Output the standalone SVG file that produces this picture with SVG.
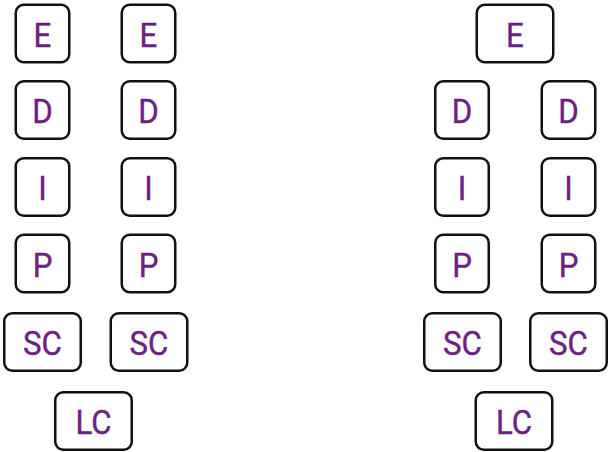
<svg xmlns="http://www.w3.org/2000/svg" width="611" height="452" viewBox="0 0 611 452">
  <style>
    .box { fill: #ffffff; stroke: #111111; stroke-width: 2.5; }
    .lbl { fill: #6b2180; stroke: #6b2180; stroke-width: 0.4; font-family: Roboto, "Liberation Sans", sans-serif; font-size: 34px; text-anchor: middle; }
  </style>
  <defs>
    <rect id="sq" class="box" x="-26.75" y="-28.75" width="53.5" height="57.5" rx="8"/>
    <rect id="wd" class="box" x="-38.25" y="-28.75" width="76.5" height="57.5" rx="8"/>
  </defs>
  <rect width="611" height="452" fill="#ffffff"/>

  <!-- left stack, two parallel chains -->
  <g id="l-e1" transform="translate(42.5,33.5)"><use href="#sq"/><text class="lbl" y="13" transform="scale(0.92,1)">E</text></g>
  <g id="l-e2" transform="translate(148.5,33.5)"><use href="#sq"/><text class="lbl" y="13" transform="scale(0.92,1)">E</text></g>
  <g id="l-d1" transform="translate(42.5,110)"><use href="#sq"/><text class="lbl" y="13" transform="scale(0.92,1)">D</text></g>
  <g id="l-d2" transform="translate(148.5,110)"><use href="#sq"/><text class="lbl" y="13" transform="scale(0.92,1)">D</text></g>
  <g id="l-i1" transform="translate(42.5,187)"><use href="#sq"/><text class="lbl" y="13" transform="scale(0.92,1)">I</text></g>
  <g id="l-i2" transform="translate(148.5,187)"><use href="#sq"/><text class="lbl" y="13" transform="scale(0.92,1)">I</text></g>
  <g id="l-p1" transform="translate(42.5,263.5)"><use href="#sq"/><text class="lbl" y="13" transform="scale(0.92,1)">P</text></g>
  <g id="l-p2" transform="translate(148.5,263.5)"><use href="#sq"/><text class="lbl" y="13" transform="scale(0.92,1)">P</text></g>
  <g id="l-sc1" transform="translate(42.5,342)"><use href="#wd"/><text class="lbl" y="13" transform="scale(0.92,1)">SC</text></g>
  <g id="l-sc2" transform="translate(149,342)"><use href="#wd"/><text class="lbl" y="13" transform="scale(0.92,1)">SC</text></g>
  <g id="l-lc" transform="translate(93.5,421)"><use href="#wd"/><text class="lbl" y="13" transform="scale(0.92,1)">LC</text></g>

  <!-- right stack, shared top -->
  <g id="r-e" transform="translate(515,33.5)"><use href="#wd"/><text class="lbl" y="13" transform="scale(0.92,1)">E</text></g>
  <g id="r-d1" transform="translate(462,110)"><use href="#sq"/><text class="lbl" y="13" transform="scale(0.92,1)">D</text></g>
  <g id="r-d2" transform="translate(568.5,110)"><use href="#sq"/><text class="lbl" y="13" transform="scale(0.92,1)">D</text></g>
  <g id="r-i1" transform="translate(462,187)"><use href="#sq"/><text class="lbl" y="13" transform="scale(0.92,1)">I</text></g>
  <g id="r-i2" transform="translate(568.5,187)"><use href="#sq"/><text class="lbl" y="13" transform="scale(0.92,1)">I</text></g>
  <g id="r-p1" transform="translate(462,263.5)"><use href="#sq"/><text class="lbl" y="13" transform="scale(0.92,1)">P</text></g>
  <g id="r-p2" transform="translate(568.5,263.5)"><use href="#sq"/><text class="lbl" y="13" transform="scale(0.92,1)">P</text></g>
  <g id="r-sc1" transform="translate(462.5,342)"><use href="#wd"/><text class="lbl" y="13" transform="scale(0.92,1)">SC</text></g>
  <g id="r-sc2" transform="translate(568.5,342)"><use href="#wd"/><text class="lbl" y="13" transform="scale(0.92,1)">SC</text></g>
  <g id="r-lc" transform="translate(514,421)"><use href="#wd"/><text class="lbl" y="13" transform="scale(0.92,1)">LC</text></g>

  <g id="connectors"></g>
</svg>
